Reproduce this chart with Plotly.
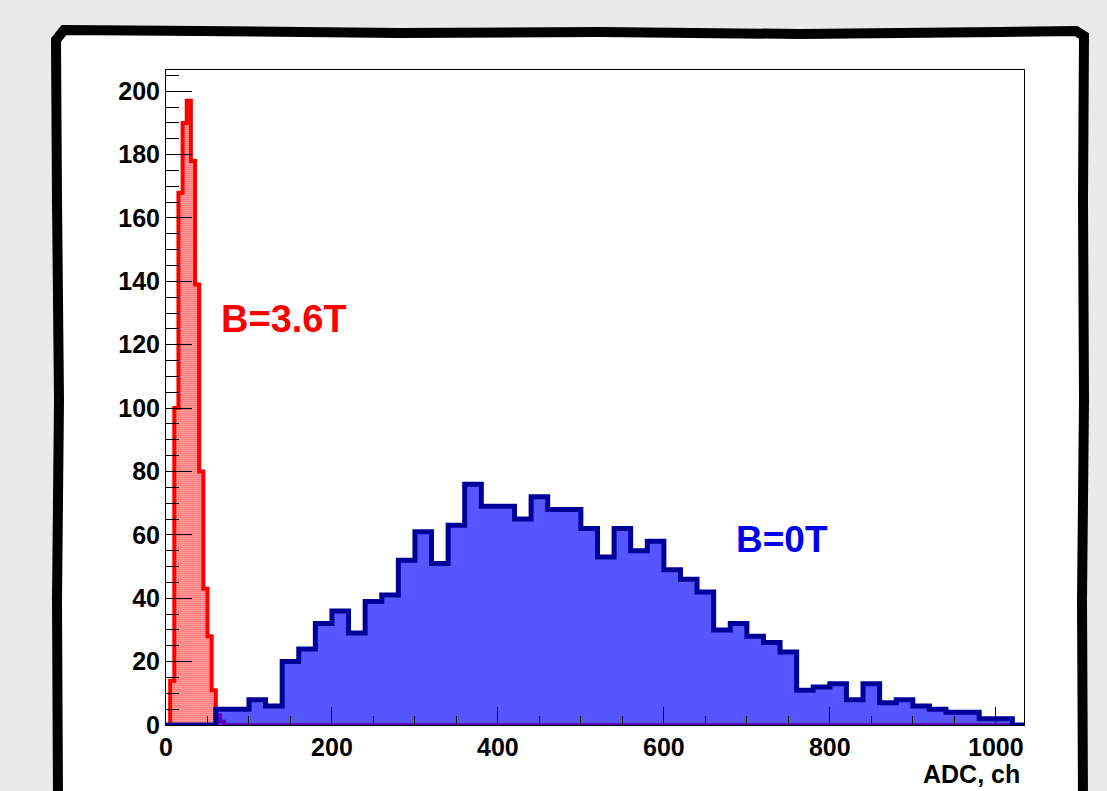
import plotly.graph_objects as go

# ---------------- data ----------------
x_max = 1034
y_max = 206.7

red_edges = [0, 5, 10, 15, 20, 25, 30, 35, 40, 45, 50, 55, 60, 65, 70]
red_counts = [0, 14, 100, 168, 190, 197, 178, 139, 80, 43, 28, 11, 3, 1]

blue_edges = list(range(0, 1021, 20))
blue_counts = [0, 0, 0, 5, 5, 8, 6, 20, 24, 32, 36, 29, 39, 41,
               52, 61, 51, 63, 76, 69, 69, 65, 72, 68, 68, 62, 53, 62,
               55, 58, 49, 46, 42, 30, 32, 28, 26, 23, 11, 12, 13, 8,
               13, 7, 8, 6, 5, 4, 4, 2, 2]

x_ticks = [0, 200, 400, 600, 800, 1000]
y_ticks = list(range(0, 201, 20))

label_red = "B=3.6T"
label_blue = "B=0T"
x_title = "ADC, ch"


def step_xy(edges, counts, xend):
    xs = list(edges[:-1]) + [edges[-1], xend]
    ys = list(counts) + [0, 0]
    return xs, ys


# ---------------- layout geometry (pixels) ----------------
W, H = 1107, 791
L, R, T, B = 166, 1024, 70, 725
pw, ph = R - L, B - T


def px(xp):
    return (xp - L) / pw


def py(yp):
    return (B - yp) / ph


font_family = "Liberation Sans, Arial, Helvetica, sans-serif"
bg = "#eaeaea"

fig = go.Figure()

rx, ry = step_xy(red_edges, red_counts, x_max)
fig.add_trace(go.Scatter(
    x=rx, y=ry, mode="lines", line=dict(shape="hv", color="#ff0000", width=4),
    fill="tozeroy", fillcolor="rgba(0,0,0,0)",
    fillpattern=dict(shape=".", size=2, solidity=0.6, fgcolor="#ff2020",
                     bgcolor="rgba(255,255,255,0)", fillmode="replace"),
    hoverinfo="skip", showlegend=False))

bx, by = step_xy(blue_edges, blue_counts, x_max)
fig.add_trace(go.Scatter(
    x=bx, y=by, mode="lines", line=dict(shape="hv", color="#000099", width=5),
    fill="tozeroy", fillcolor="rgba(0,0,0,0)",
    fillpattern=dict(shape=".", size=2, solidity=0.65, fgcolor="#0a0aff",
                     bgcolor="rgba(255,255,255,0)", fillmode="replace"),
    hoverinfo="skip", showlegend=False))

tickfont = dict(family=font_family, size=25, color="black", weight="bold")

fig.update_xaxes(
    range=[0, x_max], showgrid=False, zeroline=False,
    showline=True, linecolor="black", linewidth=1, mirror=True,
    ticks="inside", ticklen=18, tickwidth=1, tickcolor="black",
    tickvals=x_ticks, ticktext=[str(v) for v in x_ticks],
    tickfont=tickfont,
    minor=dict(dtick=50, tick0=0, ticks="inside", ticklen=9, tickcolor="black", tickwidth=1),
)
fig.update_yaxes(
    range=[0, y_max], showgrid=False, zeroline=False,
    showline=True, linecolor="black", linewidth=1, mirror=True,
    ticks="inside", ticklen=26, tickwidth=1, tickcolor="black",
    tickvals=y_ticks, ticktext=[str(v) for v in y_ticks],
    tickfont=tickfont,
    minor=dict(dtick=5, tick0=0, ticks="inside", ticklen=13, tickcolor="black", tickwidth=1),
)

# white panel with thick black (hand-drawn looking) border
panel_pts = [
    (64, 30), (200, 31), (400, 33), (600, 32), (800, 34), (1000, 32), (1076, 31),
    (1084, 36), (1083, 200), (1084, 400), (1082, 600), (1083, 800),
    (58, 800), (57, 600), (59, 400), (57, 200), (56, 40),
]
path = "M " + " L ".join(f"{px(a):.5f},{py(b):.5f}" for a, b in panel_pts) + " Z"
fig.add_shape(type="path", path=path, xref="paper", yref="paper",
              line=dict(color="black", width=10), fillcolor="white", layer="below")

fig.add_annotation(x=64, y=128, xref="x", yref="y", text=label_red, showarrow=False,
                   xanchor="left", yanchor="middle",
                   font=dict(family=font_family, size=38, color="#ff0000", weight="bold"))
fig.add_annotation(x=684, y=58.4, xref="x", yref="y", text=label_blue, showarrow=False,
                   xanchor="left", yanchor="middle",
                   font=dict(family=font_family, size=37, color="#0000ee", weight="bold"))
fig.add_annotation(x=px(1022), y=py(774), xref="paper", yref="paper", text=x_title,
                   showarrow=False, xanchor="right", yanchor="middle",
                   font=dict(family=font_family, size=25, color="black", weight="bold"))

fig.update_layout(
    width=W, height=H,
    margin=dict(l=L, r=W - R, t=T, b=H - B, pad=0),
    paper_bgcolor=bg, plot_bgcolor="white",
    showlegend=False,
)

fig.write_html(
    "out.html",
    config={"displayModeBar": False},
    post_script=(
        "document.documentElement.style.margin='0';"
        "document.body.style.margin='0';"
        "document.body.style.padding='0';"
        "document.body.style.overflow='hidden';"
        f"document.body.style.background='{bg}';"
    ),
)
